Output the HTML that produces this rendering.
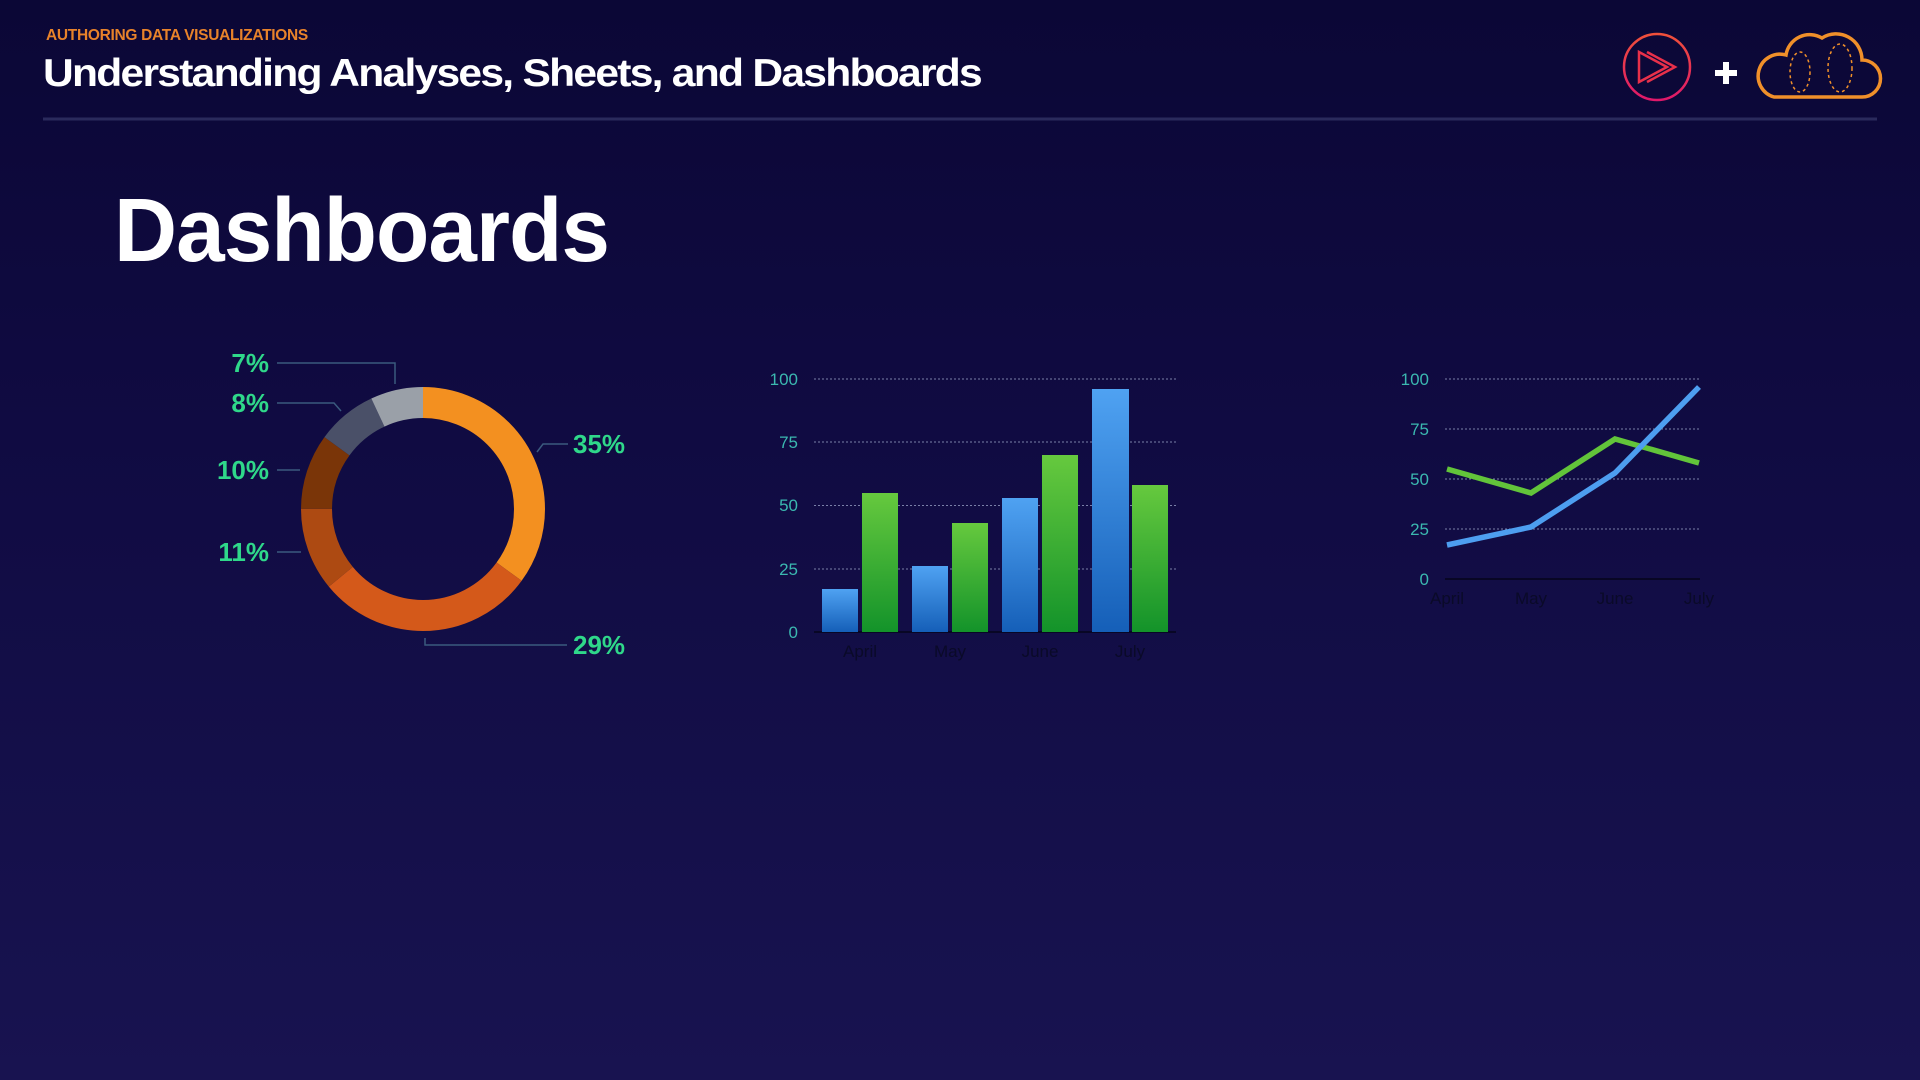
<!DOCTYPE html>
<html><head><meta charset="utf-8"><style>
html,body{margin:0;padding:0;width:1920px;height:1080px;overflow:hidden;background:linear-gradient(180deg,#0b0736 0%,#100b42 40%,#181350 100%);font-family:"Liberation Sans",sans-serif;}
</style></head><body>
<svg width="1920" height="1080" viewBox="0 0 1920 1080" xmlns="http://www.w3.org/2000/svg" style="position:absolute;left:0;top:0">
<defs>
<linearGradient id="gb" x1="0" y1="0" x2="0" y2="1"><stop offset="0" stop-color="#4fa2f2"/><stop offset="1" stop-color="#155fb8"/></linearGradient>
<linearGradient id="gg" x1="0" y1="0" x2="0" y2="1"><stop offset="0" stop-color="#66c93e"/><stop offset="1" stop-color="#13932a"/></linearGradient>
<linearGradient id="gl" x1="0" y1="0" x2="0" y2="1"><stop offset="0" stop-color="#f0503a"/><stop offset="1" stop-color="#e0186a"/></linearGradient>
</defs>
<!-- header -->
<text x="46" y="40" font-size="15.5" font-weight="bold" fill="#e8822a" letter-spacing="-0.3">AUTHORING DATA VISUALIZATIONS</text>
<text x="43" y="86" font-size="39" font-weight="bold" fill="#ffffff" letter-spacing="-1.6" textLength="938" lengthAdjust="spacingAndGlyphs">Understanding Analyses, Sheets, and Dashboards</text>
<line x1="43" y1="119" x2="1877" y2="119" stroke="#2a2a5c" stroke-width="3"/>
<!-- logos -->
<circle cx="1657" cy="67" r="33" fill="none" stroke="url(#gl)" stroke-width="2.5"/>
<path d="M1642 52 L1670 67 L1642 82 Z M1650 52 L1678 67 L1650 82" fill="none" stroke="#e8304a" stroke-width="2.5" transform="translate(-3,0)"/>
<path d="M1726 62 V84 M1715 73 H1737" stroke="#fff" stroke-width="6"/>
<path d="M1774 97 H1862 A17 17 0 0 0 1862 60 A26 26 0 0 0 1822 38 A24 24 0 0 0 1786 55 A21 21 0 0 0 1774 97 Z" fill="none" stroke="#f0902a" stroke-width="3.5"/>
<ellipse cx="1800" cy="72" rx="10" ry="20" fill="none" stroke="#f0902a" stroke-width="1.5" stroke-dasharray="3 3"/>
<ellipse cx="1840" cy="68" rx="12" ry="24" fill="none" stroke="#f0902a" stroke-width="1.5" stroke-dasharray="3 3"/>
<!-- Dashboards -->
<text x="114" y="261" font-size="90" font-weight="bold" fill="#ffffff" letter-spacing="-1" textLength="495" lengthAdjust="spacingAndGlyphs">Dashboards</text>
<!-- donut -->
<g transform="rotate(-90 423 509)" fill="none" stroke-width="31">
<circle cx="423" cy="509" r="106.5" stroke="#f39020" stroke-dasharray="234.2 669.2" stroke-dashoffset="0"/>
<circle cx="423" cy="509" r="106.5" stroke="#d4591a" stroke-dasharray="194.1 669.2" stroke-dashoffset="-234.2"/>
<circle cx="423" cy="509" r="106.5" stroke="#ad4a12" stroke-dasharray="73.6 669.2" stroke-dashoffset="-428.3"/>
<circle cx="423" cy="509" r="106.5" stroke="#7a3508" stroke-dasharray="66.9 669.2" stroke-dashoffset="-501.9"/>
<circle cx="423" cy="509" r="106.5" stroke="#4a5068" stroke-dasharray="53.5 669.2" stroke-dashoffset="-568.8"/>
<circle cx="423" cy="509" r="106.5" stroke="#9aa0a8" stroke-dasharray="46.9 669.2" stroke-dashoffset="-622.3"/>
</g>
<g stroke="#3a5a7e" stroke-width="1.5" fill="none">
<path d="M277 363 H395 V384"/><path d="M277 403 H334 L341 411"/><path d="M277 470 H300"/><path d="M277 552 H301"/>
<path d="M537 452 L543 444 H568"/><path d="M425 638 V645 H567"/>
</g>
<g font-size="26" font-weight="bold" fill="#2fd88a" text-anchor="end">
<text x="269" y="372">7%</text><text x="269" y="412">8%</text><text x="269" y="479">10%</text><text x="269" y="561">11%</text>
</g>
<g font-size="26" font-weight="bold" fill="#2fd88a">
<text x="573" y="453">35%</text><text x="573" y="654">29%</text>
</g>
<!-- bar chart -->
<g stroke="#7a80a8" stroke-width="1" stroke-dasharray="2 2">
<line x1="814" y1="379" x2="1176" y2="379"/><line x1="814" y1="442" x2="1176" y2="442"/><line x1="814" y1="505.5" x2="1176" y2="505.5"/><line x1="814" y1="569" x2="1176" y2="569"/>
</g>
<line x1="814" y1="632" x2="1176" y2="632" stroke="#05051a" stroke-width="1.5"/>
<g font-size="17" fill="#3bb8b0" text-anchor="end">
<text x="798" y="385">100</text><text x="798" y="448">75</text><text x="798" y="511">50</text><text x="798" y="575">25</text><text x="798" y="638">0</text>
</g>
<g>
<rect x="822" y="589" width="36" height="43" fill="url(#gb)"/><rect x="862" y="493" width="36" height="139" fill="url(#gg)"/>
<rect x="912" y="566" width="36" height="66" fill="url(#gb)"/><rect x="952" y="523" width="36" height="109" fill="url(#gg)"/>
<rect x="1002" y="498" width="36" height="134" fill="url(#gb)"/><rect x="1042" y="455" width="36" height="177" fill="url(#gg)"/>
<rect x="1092" y="389" width="37" height="243" fill="url(#gb)"/><rect x="1132" y="485" width="36" height="147" fill="url(#gg)"/>
</g>
<g font-size="17" fill="#0a0a28" text-anchor="middle">
<text x="860" y="657">April</text><text x="950" y="657">May</text><text x="1040" y="657">June</text><text x="1130" y="657">July</text>
</g>
<!-- line chart -->
<g stroke="#7a80a8" stroke-width="1" stroke-dasharray="2 2">
<line x1="1445" y1="379" x2="1700" y2="379"/><line x1="1445" y1="429" x2="1700" y2="429"/><line x1="1445" y1="479" x2="1700" y2="479"/><line x1="1445" y1="529" x2="1700" y2="529"/>
</g>
<line x1="1445" y1="579" x2="1700" y2="579" stroke="#05051a" stroke-width="1.5"/>
<g font-size="17" fill="#3bb8b0" text-anchor="end">
<text x="1429" y="385">100</text><text x="1429" y="435">75</text><text x="1429" y="485">50</text><text x="1429" y="535">25</text><text x="1429" y="585">0</text>
</g>
<polyline points="1447,469 1531,493 1615,439 1699,463" fill="none" stroke="#62c43a" stroke-width="5.5" stroke-linejoin="miter"/>
<polyline points="1447,545 1531,527 1615,473 1699,387" fill="none" stroke="#4d9ef0" stroke-width="5.5"/>
<g font-size="17" fill="#0a0a28" text-anchor="middle">
<text x="1447" y="604">April</text><text x="1531" y="604">May</text><text x="1615" y="604">June</text><text x="1699" y="604">July</text>
</g>
</svg>
</body></html>
